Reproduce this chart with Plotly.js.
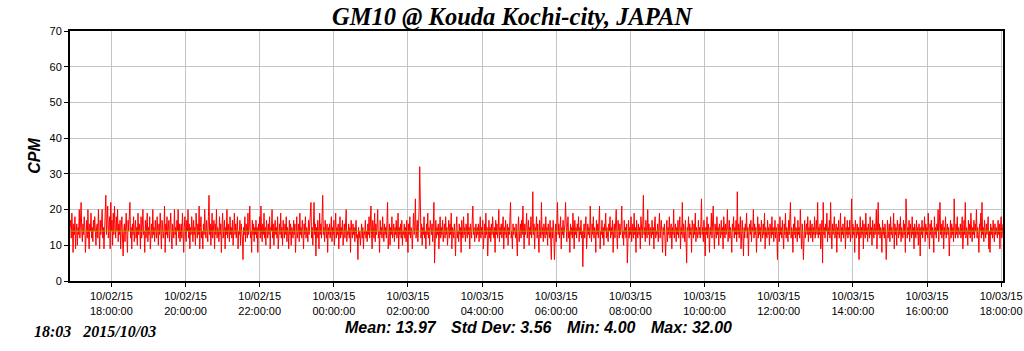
<!DOCTYPE html>
<html><head><meta charset="utf-8">
<script src="https://cdn.plot.ly/plotly-3.0.1.min.js"></script>
<style>html,body{margin:0;padding:0;background:#fff;}#chart{width:1024px;height:351px;}</style>
</head><body><div id="chart"></div>
<script>
// one reading per minute, starting 2015-10-02 16:53, ending 2015-10-03 18:03
const startTime = '2015-10-02T16:53:00Z';
const cpm = [
15,17,12,19,14,8,16,13,18,9, 14,16,10,15,13,20,12,17,22,14, 11,16,13,18,15,8,14,17,12,20, 13,9,16,14,19,12,15,11,17,14, 18,13,10,15,16,12,20,14,9,17, 13,16,20,12,15,9,14,18,24,13,
16,21,12,15,18,9,22,14,17,10, 19,13,21,15,12,18,14,20,11,16, 13,17,9,15,18,12,7,14,16,11, 15,19,13,8,17,14,18,22,12,15, 9,16,13,18,11,14,17,12,15,10, 19,13,16,14,9,18,12,15,20,13,
14,8,17,12,16,19,11,15,13,18, 9,14,16,12,20,13,15,11,17,14, 12,18,15,10,16,13,19,14,9,17, 15,12,14,21,8,16,13,18,12,15, 17,11,14,19,13,9,16,14,12,20, 13,15,10,17,14,20,12,16,11,14,
16,12,19,14,8,15,18,13,11,17, 14,20,12,16,9,15,13,18,14,11, 17,13,15,10,19,14,12,16,13,21, 9,15,18,12,14,9,16,13,20,14, 12,17,15,11,18,24,13,16,10,15, 19,12,14,17,9,16,13,20,12,15,
14,11,18,13,16,8,15,19,12,14, 17,9,15,13,20,12,16,14,11,18, 13,15,12,17,10,14,19,13,16,12, 15,18,9,14,13,17,10,16,14,12, 6,15,13,18,11,16,14,12,19,13, 15,21,12,14,8,17,13,16,11,15,
13,17,12,15,8,16,14,18,12,21, 14,11,16,13,19,12,15,10,17,14, 12,16,13,18,9,15,14,20,12,16, 10,14,17,13,15,12,18,9,14,16, 13,19,12,15,10,17,14,12,16,13, 18,11,15,14,9,17,13,16,10,15,
14,12,17,13,16,8,15,18,12,14, 16,11,19,13,15,12,17,14,9,16, 13,18,12,15,14,11,17,13,16,19, 22,12,15,10,14,22,13,16,7,15, 12,17,14,9,19,13,16,12,18,24, 13,15,11,17,14,12,16,8,15,13,
16,12,14,18,11,15,13,17,10,14, 19,12,15,13,16,9,14,18,12,15, 13,17,10,14,16,12,15,20,11,14, 13,16,12,15,8,17,14,12,16,13, 15,11,14,17,12,13,6,15,12,14, 10,13,16,12,15,9,14,13,17,12,
14,11,16,13,18,12,15,21,13,9, 17,14,12,19,11,16,13,15,20,12, 14,8,17,13,15,12,18,14,11,16, 13,15,12,17,22,9,14,16,10,15, 13,18,12,14,16,11,15,13,17,12, 14,19,9,15,13,16,12,17,10,14,
13,16,12,15,11,17,14,8,16,13, 18,12,15,14,9,16,19,13,15,23, 12,14,17,11,15,20,32,14,12,16, 10,15,13,18,12,14,9,16,13,19, 12,15,10,17,14,13,16,11,15,22, 5,14,17,12,15,13,16,9,14,18,
12,15,13,17,11,14,16,12,18,13, 15,10,14,17,12,16,13,19,9,15, 14,12,16,13,7,15,18,12,14,11, 16,13,15,8,17,14,12,18,13,15, 11,16,14,12,19,13,15,9,16,14, 12,17,21,13,15,11,14,16,12,15,
13,16,11,14,18,12,15,13,17,9, 14,16,12,19,13,15,7,14,17,12, 15,11,16,13,18,14,12,15,8,17, 13,16,12,14,20,11,15,13,16,12, 14,18,9,15,13,17,12,14,16,10, 15,13,17,22,12,14,9,16,13,15,
14,12,16,13,7,15,18,11,14,16, 12,17,13,21,14,9,16,13,15,19, 12,14,17,10,15,13,18,12,14,25, 13,16,9,15,14,18,12,16,13,8, 17,14,12,22,13,15,11,16,14,12, 18,13,15,10,16,14,12,17,13,6,
15,12,17,14,6,13,16,11,15,22, 13,16,12,14,18,9,15,13,17,12, 14,16,22,13,11,15,18,12,14,8, 16,13,15,12,19,14,9,17,13,15, 12,16,14,18,11,15,13,17,12,14, 4,13,16,12,15,18,9,14,16,13,
15,12,21,14,11,16,13,18,12,15, 14,8,17,13,16,12,15,21,9,14, 13,17,12,15,10,16,14,19,12,15, 13,11,16,14,18,12,15,13,17,8, 14,16,12,15,20,13,9,17,14,12, 16,13,15,21,12,14,10,17,13,15,
12,16,5,14,17,12,15,13,18,11, 14,16,12,19,13,15,8,17,14,12, 16,13,15,9,18,14,12,16,24,13, 15,11,17,14,12,20,13,16,10,15, 14,12,17,13,15,9,16,18,12,14, 13,16,11,15,19,12,14,17,13,8,
15,13,16,12,7,14,17,11,15,13, 18,12,14,16,9,15,13,20,12,14, 16,11,15,13,17,12,14,18,9,15, 13,22,12,16,14,11,17,13,5,15, 14,18,12,16,13,15,8,17,14,12, 16,13,19,11,15,14,12,17,13,15,
12,16,23,13,15,11,17,14,7,15, 13,18,12,16,14,8,15,13,19,12, 15,21,13,9,16,14,12,18,13,15, 10,16,14,12,17,13,15,9,18,14, 12,16,13,15,20,11,14,17,12,15, 13,8,16,14,18,12,15,13,17,11,
25,13,16,12,15,18,9,14,17,13, 7,15,12,16,14,19,12,15,7,14, 16,13,17,11,15,14,20,12,16,13, 15,8,14,18,12,16,13,15,11,17, 14,12,16,13,19,9,15,14,12,17, 13,15,10,16,14,12,18,13,15,11,
14,17,12,15,13,6,16,14,11,18, 13,15,12,17,14,9,16,13,19,12, 15,14,11,17,13,16,22,12,15,14, 8,16,13,18,12,15,14,11,17,13, 15,12,20,14,9,16,13,6,15,17, 12,14,16,13,18,11,15,13,17,12,
14,16,11,15,13,18,12,14,17,13, 22,12,15,13,16,9,14,17,5,22, 13,15,12,16,14,19,11,15,13,17, 12,22,14,9,16,13,15,18,12,14, 16,8,15,13,17,12,14,19,11,15, 13,16,12,14,18,9,15,13,17,12,
15,13,17,11,14,23,12,16,13,15, 8,17,14,12,16,13,15,6,14,18, 12,15,13,17,9,16,14,12,19,13, 15,11,16,14,12,18,13,15,10,17, 14,12,16,13,15,20,9,14,22,13, 16,12,15,14,8,17,13,15,12,16,
13,6,15,17,12,14,16,11,18,13, 15,12,14,19,9,16,13,15,10,17, 14,12,16,13,18,11,15,14,12,17, 13,16,8,23,14,12,15,13,17,11, 16,14,12,18,13,15,9,16,14,12, 17,13,15,10,16,14,7,15,13,17,
12,15,14,18,11,16,13,15,12,19, 14,9,16,13,17,12,15,14,8,18, 13,15,12,16,14,20,11,15,22,13, 16,12,14,17,9,15,13,18,12,14, 16,13,15,7,14,17,12,16,13,15, 11,23,14,12,16,13,18,12,15,14,
13,16,12,15,18,9,14,17,13,22, 12,15,14,10,17,13,16,12,19,14, 11,15,13,17,12,16,14,20,12,15, 13,8,16,14,19,12,22,13,15,11, 17,14,12,16,13,15,18,9,14,8, 16,13,15,12,17,14,11,16,13,15,
14,12,17,13,16,9,15,18,12,14,16
];
const tickDates = ['2015-10-02 18:00:00','2015-10-02 20:00:00','2015-10-02 22:00:00','2015-10-03 00:00:00','2015-10-03 02:00:00','2015-10-03 04:00:00','2015-10-03 06:00:00','2015-10-03 08:00:00','2015-10-03 10:00:00','2015-10-03 12:00:00','2015-10-03 14:00:00','2015-10-03 16:00:00','2015-10-03 18:00:00'];
const tickLabels = ['10/02/15<br>18:00:00','10/02/15<br>20:00:00','10/02/15<br>22:00:00','10/03/15<br>00:00:00','10/03/15<br>02:00:00','10/03/15<br>04:00:00','10/03/15<br>06:00:00','10/03/15<br>08:00:00','10/03/15<br>10:00:00','10/03/15<br>12:00:00','10/03/15<br>14:00:00','10/03/15<br>16:00:00','10/03/15<br>18:00:00'];
const meanValue = 13.97;
const statMean = 'Mean: 13.97', statStd = 'Std Dev: 3.56', statMin = 'Min: 4.00', statMax = 'Max: 32.00';
const stampText = '18:03&nbsp;&nbsp;&nbsp;2015/10/03';
const chartTitle = 'GM10 @ Kouda Kochi-city, JAPAN';

function fmt(d){
  const p = n => String(n).padStart(2,'0');
  return d.getUTCFullYear()+'-'+p(d.getUTCMonth()+1)+'-'+p(d.getUTCDate())+' '+p(d.getUTCHours())+':'+p(d.getUTCMinutes())+':00';
}
const t0 = new Date(startTime).getTime();
const times = cpm.map((v,i)=>fmt(new Date(t0 + i*60000)));

const sans = 'Liberation Sans, Arial, sans-serif';
const serif = 'Liberation Serif, Times New Roman, serif';
const statFont = {family: sans, size: 16, color: '#000', weight: 'bold', style: 'italic'};

const traces = [
  {x: times, y: cpm, type: 'scatter', mode: 'lines', line: {color: '#ff0000', width: 1}, hoverinfo: 'skip'},
  {x: [times[0], times[times.length-1]], y: [meanValue, meanValue], type: 'scatter', mode: 'lines', line: {color: '#a8a800', width: 1}, hoverinfo: 'skip'}
];

const layout = {
  width: 1024, height: 351,
  margin: {l: 70, r: 21, t: 31, b: 70},
  paper_bgcolor: '#fff', plot_bgcolor: '#fff',
  showlegend: false,
  title: {text: chartTitle, font: {family: serif, size: 24.5, color: '#000', weight: 'bold', style: 'italic'}, x: 0.5, xanchor: 'center', y: 0.952, yanchor: 'middle'},
  xaxis: {
    type: 'date', range: [times[0], times[times.length-1]],
    tickmode: 'array', tickvals: tickDates, ticktext: tickLabels,
    tickfont: {family: sans, size: 11, color: '#000'},
    ticks: 'outside', ticklen: 4, tickcolor: '#000',
    showgrid: true, gridcolor: '#c4c4c4', gridwidth: 1,
    showline: true, linecolor: '#000', linewidth: 2, mirror: true,
    zeroline: false
  },
  yaxis: {
    range: [0, 70], tickmode: 'linear', tick0: 0, dtick: 10,
    tickfont: {family: sans, size: 11, color: '#000'},
    ticks: 'outside', ticklen: 4, tickcolor: '#000',
    showgrid: true, gridcolor: '#c4c4c4', gridwidth: 1,
    showline: true, linecolor: '#000', linewidth: 2, mirror: true,
    zeroline: false,
    title: {text: 'CPM', font: {family: sans, size: 16, color: '#000', weight: 'bold', style: 'italic'}, standoff: 5}
  },
  annotations: [
    {xref: 'paper', yref: 'paper', x: 0.293, y: -0.184, xanchor: 'left', yanchor: 'middle', text: statMean, showarrow: false, font: statFont},
    {xref: 'paper', yref: 'paper', x: 0.4065, y: -0.184, xanchor: 'left', yanchor: 'middle', text: statStd, showarrow: false, font: statFont},
    {xref: 'paper', yref: 'paper', x: 0.531, y: -0.184, xanchor: 'left', yanchor: 'middle', text: statMin, showarrow: false, font: statFont},
    {xref: 'paper', yref: 'paper', x: 0.621, y: -0.184, xanchor: 'left', yanchor: 'middle', text: statMax, showarrow: false, font: statFont},
    {xref: 'paper', yref: 'paper', x: -0.041, y: -0.2, xanchor: 'left', yanchor: 'middle', text: stampText, showarrow: false, font: {family: serif, size: 16, color: '#000', weight: 'bold', style: 'italic'}}
  ]
};

Plotly.newPlot('chart', traces, layout, {displayModeBar: false, staticPlot: true});
</script>
</body></html>
